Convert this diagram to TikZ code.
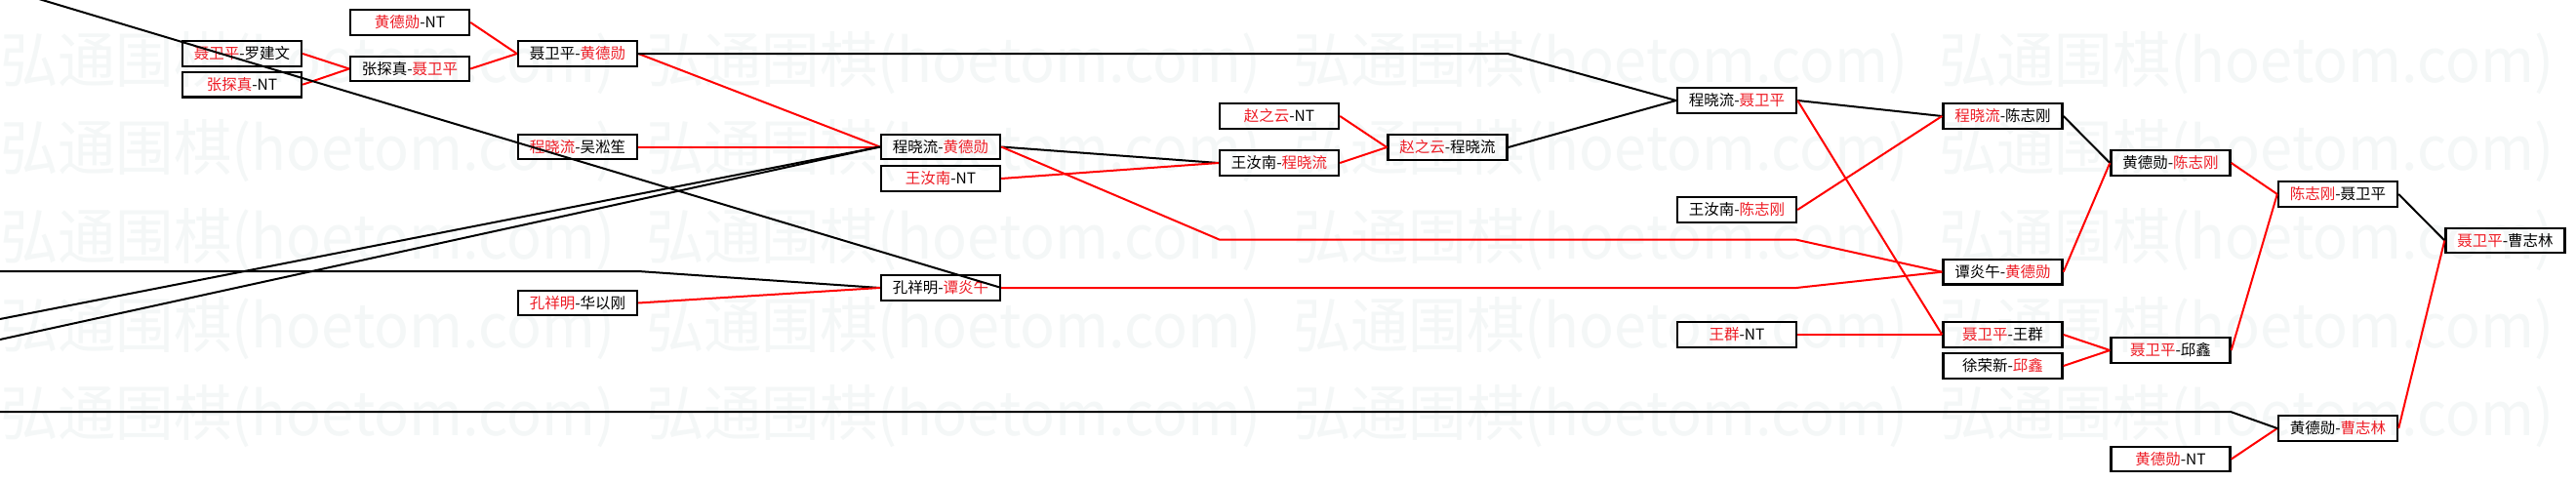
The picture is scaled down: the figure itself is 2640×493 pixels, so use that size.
\documentclass[tikz,border=0pt]{standalone}
\usepackage{fontspec}
\newfontfamily\cjk{Noto Sans CJK SC}
\usetikzlibrary{calc}
\definecolor{cWin} {HTML}{FF0000}
\definecolor{cTxt} {HTML}{EE1C25}
\definecolor{cMark}{HTML}{F4F7F7}
\newcommand{\rd}[1]{\textcolor{cTxt}{#1}}
\tikzset{
  gbox/.style={draw,line width=2.4pt,minimum width=122pt,minimum height=25.5pt,
               inner sep=0pt,font=\cjk\fontsize{15.5}{15.5}\selectfont},
  wline/.style={line width=2pt,cWin},
  lline/.style={line width=2pt,black},
  wmark/.style={anchor=west,inner sep=0pt,text=cMark,font=\cjk\fontsize{60}{60}\selectfont},
}

\begin{document}
\begin{tikzpicture}[x=1pt,y=-1pt]
  \path[use as bounding box,fill=white] (0,0) rectangle (2640,493);
  \clip (0,0) rectangle (2640,493);
  \foreach \wy in {65,155,246,337,427}
    \foreach \wx in {0,662,1325,1987}
      \node[wmark] (wm-\wx-\wy) at (\wx,\wy) {\resizebox{630pt}{52pt}{弘通围棋(hoetom.com)}};

  \node[gbox] (a1) at (248,55)     {\rd{聂卫平}-罗建文};
  \node[gbox] (a2) at (248,86.7)   {\rd{张探真}-NT};
  \node[gbox] (b1) at (420,23)     {\rd{黄德勋}-NT};
  \node[gbox] (b2) at (420,70.5)   {张探真-\rd{聂卫平}};
  \node[gbox] (c1) at (592,55)     {聂卫平-\rd{黄德勋}};
  \node[gbox] (c2) at (592,150.5)  {\rd{程晓流}-吴淞笙};
  \node[gbox] (c3) at (592,310.5)  {\rd{孔祥明}-华以刚};
  \node[gbox] (d1) at (964,150.5)  {程晓流-\rd{黄德勋}};
  \node[gbox] (d2) at (964,183)    {\rd{王汝南}-NT};
  \node[gbox] (d3) at (964,295)    {孔祥明-\rd{谭炎午}};
  \node[gbox] (e1) at (1311,119)   {\rd{赵之云}-NT};
  \node[gbox] (e2) at (1311,167)   {王汝南-\rd{程晓流}};
  \node[gbox] (f1) at (1483.5,151) {\rd{赵之云}-程晓流};
  \node[gbox] (g1) at (1780,103)   {程晓流-\rd{聂卫平}};
  \node[gbox] (g2) at (1780,215)   {王汝南-\rd{陈志刚}};
  \node[gbox] (g3) at (1780,343)   {\rd{王群}-NT};
  \node[gbox] (h1) at (2052.5,119) {\rd{程晓流}-陈志刚};
  \node[gbox] (h2) at (2052.5,278.7) {谭炎午-\rd{黄德勋}};
  \node[gbox] (h3) at (2052.5,343) {\rd{聂卫平}-王群};
  \node[gbox] (h4) at (2052.5,375) {徐荣新-\rd{邱鑫}};
  \node[gbox] (i1) at (2224.5,167) {黄德勋-\rd{陈志刚}};
  \node[gbox] (i2) at (2224.5,359) {\rd{聂卫平}-邱鑫};
  \node[gbox] (i3) at (2224.5,470.5) {\rd{黄德勋}-NT};
  \node[gbox] (j1) at (2396,199)   {\rd{陈志刚}-聂卫平};
  \node[gbox] (j2) at (2396,439)   {黄德勋-\rd{曹志林}};
  \node[gbox] (k1) at (2567.5,246.5) {\rd{聂卫平}-曹志林};

  \coordinate (top0) at (0,-13);
  \coordinate (in1)  at (0,278);
  \coordinate (in1b) at (654,278);
  \coordinate (in2)  at (0,327);
  \coordinate (in3)  at (0,348);
  \coordinate (in4)  at (0,422);
  \coordinate (in4b) at (2286,422);
  \coordinate (bend1) at (1545,55);
  \coordinate (r1)   at (1250,245.7);
  \coordinate (r1b)  at (1841,245.7);
  \coordinate (r2)   at (1841,295);

  \draw[wline] (a1.east) -- (b2.west);
  \draw[wline] (a2.east) -- (b2.west);
  \draw[wline] (b1.east) -- (c1.west);
  \draw[wline] (b2.east) -- (c1.west);
  \draw[wline] (c1.east) -- (d1.west);
  \draw[lline] (c1.east) -- (bend1) -- (g1.west);
  \draw[wline] (c2.east) -- (d1.west);
  \draw[lline] (in2) -- (d1.west);
  \draw[lline] (in3) -- (d1.west);
  \draw[lline] (top0) -- (d3.east);
  \draw[lline] (in1) -- (in1b) -- (d3.west);
  \draw[wline] (c3.east) -- (d3.west);
  \draw[lline] (d1.east) -- (e2.west);
  \draw[wline] (d2.east) -- (e2.west);
  \draw[wline] (d1.east) -- (r1) -- (r1b) -- (h2.west);
  \draw[wline] (d3.east) -- (r2) -- (h2.west);
  \draw[wline] (e1.east) -- (f1.west);
  \draw[wline] (e2.east) -- (f1.west);
  \draw[lline] (f1.east) -- (g1.west);
  \draw[lline] (g1.east) -- (h1.west);
  \draw[wline] (g1.east) -- (h3.west);
  \draw[wline] (g2.east) -- (h1.west);
  \draw[wline] (g3.east) -- (h3.west);
  \draw[lline] (h1.east) -- (i1.west);
  \draw[wline] (h2.east) -- (i1.west);
  \draw[wline] (h3.east) -- (i2.west);
  \draw[wline] (h4.east) -- (i2.west);
  \draw[wline] (i1.east) -- (j1.west);
  \draw[wline] (i2.east) -- (j1.west);
  \draw[lline] (j1.east) -- (k1.west);
  \draw[wline] (j2.east) -- (k1.west);
  \draw[wline] (i3.east) -- (j2.west);
  \draw[lline] (in4) -- (in4b) -- (j2.west);
\end{tikzpicture}
\end{document}
